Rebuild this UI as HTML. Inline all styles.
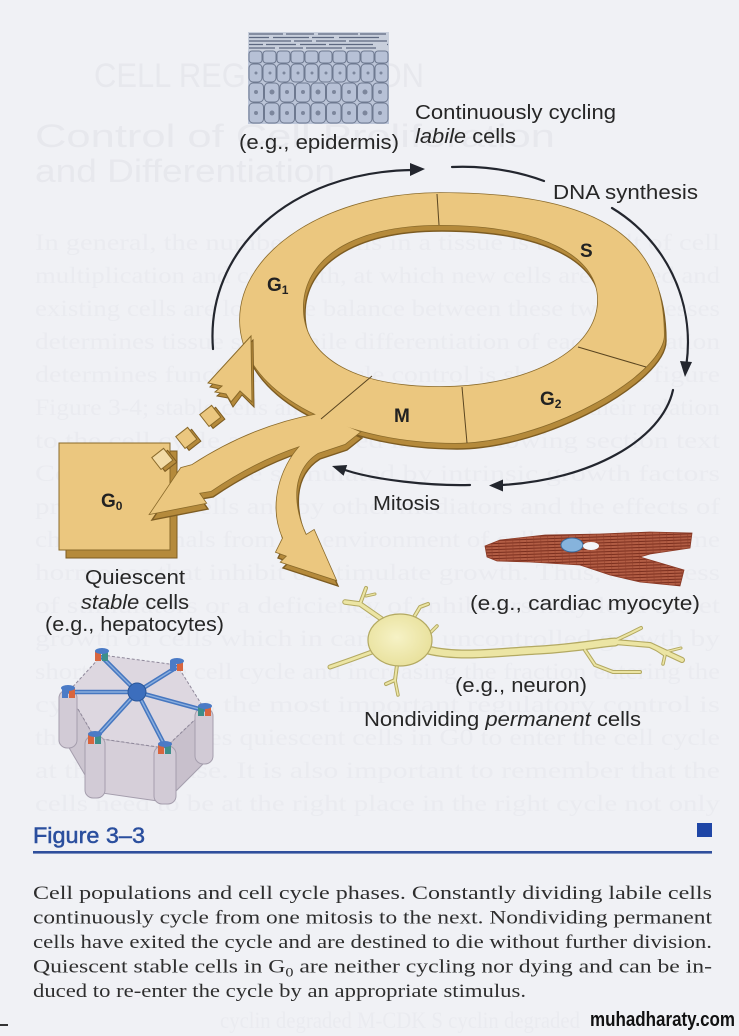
<!DOCTYPE html>
<html><head><meta charset="utf-8">
<style>
html,body{margin:0;padding:0;background:#f0f1f5;}
svg{display:block;}
text{font-family:"Liberation Sans",Arial,sans-serif;}
.serif{font-family:"Liberation Serif","Times New Roman",serif;}
</style></head>
<body>
<svg width="739" height="1036" viewBox="0 0 739 1036" xmlns="http://www.w3.org/2000/svg">
<defs>
  <pattern id="mus" width="7" height="3" patternUnits="userSpaceOnUse" patternTransform="rotate(-2)">
    <rect width="7" height="3" fill="#b25d44"/>
    <rect y="2" width="7" height="1" fill="#7a2e1e"/>
    <rect x="3" width="1" height="3" fill="#8e3d29" opacity="0.5"/>
  </pattern>
  <radialGradient id="soma" cx="0.45" cy="0.45" r="0.6">
    <stop offset="0" stop-color="#f6f2c6"/>
    <stop offset="1" stop-color="#e8e09a"/>
  </radialGradient>
  <g id="body">
    <path fill-rule="evenodd" d="M440 193 C610 193 664 245 664 335 C664 375 545 443 455 443 C345 443 240 395 240 320 C240 250 330 193 440 193 Z M440 225 C540 225 598 255 598 300 C598 350 530 387 440 387 C350 387 303 355 303 308 C303 260 350 225 440 225 Z"/>
    <path d="M318 414 Q252 426 192 465 L181 468 L150 514 L206 503 L199 493 L211 491 Q255 461 300 446 C281 467 268 505 283 538 L276 552 L287 556 L281 562 L336 580 L314 530 L306 535 C292 505 291 470 318 453 L345 444 L360 432 Z"/>
  </g>
</defs>

<!-- background -->
<rect width="739" height="1036" fill="#f0f1f5"/>

<!-- ghost show-through text -->
<g fill="#e7e8ed">
  <text x="94" y="87" font-size="34" textLength="330" lengthAdjust="spacingAndGlyphs">CELL REGENERATION</text>
  <text x="35" y="147" font-size="32" textLength="520" lengthAdjust="spacingAndGlyphs">Control of Cell Proliferation</text>
  <text x="35" y="182" font-size="32" textLength="300" lengthAdjust="spacingAndGlyphs">and Differentiation</text>
</g>
<g fill="#eaebf0" class="serif" font-size="23">
  <text class="serif" x="35" y="250" textLength="685" lengthAdjust="spacingAndGlyphs">In general, the number of cells in a tissue is the result of cell</text>
  <text class="serif" x="35" y="283" textLength="685" lengthAdjust="spacingAndGlyphs">multiplication and cell death, at which new cells are formed and</text>
  <text class="serif" x="35" y="316" textLength="685" lengthAdjust="spacingAndGlyphs">existing cells are lost. The balance between these two processes</text>
  <text class="serif" x="35" y="349" textLength="685" lengthAdjust="spacingAndGlyphs">determines tissue size, while differentiation of each population</text>
  <text class="serif" x="35" y="382" textLength="685" lengthAdjust="spacingAndGlyphs">determines function. Cell cycle control is shown in the figure</text>
  <text class="serif" x="35" y="415" textLength="685" lengthAdjust="spacingAndGlyphs">Figure 3-4; stable cells and quiescent populations and their relation</text>
  <text class="serif" x="35" y="448" textLength="685" lengthAdjust="spacingAndGlyphs">to the cell cycle are described in the following section text</text>
  <text class="serif" x="35" y="481" textLength="685" lengthAdjust="spacingAndGlyphs">Cell growth can be stimulated by intrinsic growth factors</text>
  <text class="serif" x="35" y="514" textLength="685" lengthAdjust="spacingAndGlyphs">produced by cells and by other mediators and the effects of</text>
  <text class="serif" x="35" y="547" textLength="685" lengthAdjust="spacingAndGlyphs">chemical signals from the environment of cells including some</text>
  <text class="serif" x="35" y="580" textLength="685" lengthAdjust="spacingAndGlyphs">hormones that inhibit or stimulate growth. Thus, an excess</text>
  <text class="serif" x="35" y="613" textLength="685" lengthAdjust="spacingAndGlyphs">of stimulators or a deficiency of inhibitors may lead to net</text>
  <text class="serif" x="35" y="646" textLength="685" lengthAdjust="spacingAndGlyphs">growth of cells which in cancer is uncontrolled growth by</text>
  <text class="serif" x="35" y="679" textLength="685" lengthAdjust="spacingAndGlyphs">shortening the cell cycle and increasing the fraction entering the</text>
  <text class="serif" x="35" y="712" textLength="685" lengthAdjust="spacingAndGlyphs">cycle. Perhaps the most important regulatory control is</text>
  <text class="serif" x="35" y="745" textLength="685" lengthAdjust="spacingAndGlyphs">that which causes quiescent cells in G0 to enter the cell cycle</text>
  <text class="serif" x="35" y="778" textLength="685" lengthAdjust="spacingAndGlyphs">at the G1 phase. It is also important to remember that the</text>
  <text class="serif" x="35" y="811" textLength="685" lengthAdjust="spacingAndGlyphs">cells need to be at the right place in the right cycle not only</text>
  <text class="serif" x="220" y="1028" textLength="360" lengthAdjust="spacingAndGlyphs">cyclin degraded   M-CDK   S cyclin degraded</text>
</g>

<!-- epidermis -->
<g>
  <rect x="248" y="32" width="141" height="92" fill="#bcc5d8"/>
  <rect x="248" y="32" width="141" height="19" fill="#c8cfdc"/>
  <g stroke="#5d6880" stroke-width="1.3">
    <line x1="249" y1="34" x2="388" y2="34" stroke-dasharray="34 3 28 4 40 2 26"/>
    <line x1="249" y1="37.5" x2="388" y2="37.5" stroke-dasharray="20 4 36 3 22 5 40"/>
    <line x1="249" y1="41" x2="388" y2="41" stroke-dasharray="42 3 18 4 30 3 38"/>
    <line x1="249" y1="44.5" x2="388" y2="44.5" stroke-dasharray="14 3 30 4 26 3 44"/>
    <line x1="249" y1="48" x2="388" y2="48" stroke-dasharray="26 4 24 3 36 4 30"/>
  </g>
  <g fill="#b7c1d6" stroke="#6e7990" stroke-width="1">
    <rect x="249" y="51" width="13" height="12" rx="3"/><rect x="263" y="51" width="13" height="12" rx="3"/><rect x="277" y="51" width="13" height="12" rx="3"/><rect x="291" y="51" width="13" height="12" rx="3"/><rect x="305" y="51" width="13" height="12" rx="3"/><rect x="319" y="51" width="13" height="12" rx="3"/><rect x="333" y="51" width="13" height="12" rx="3"/><rect x="347" y="51" width="13" height="12" rx="3"/><rect x="361" y="51" width="13" height="12" rx="3"/><rect x="375" y="51" width="13" height="12" rx="3"/>
    <rect x="249" y="64" width="13" height="18" rx="4"/><rect x="263" y="64" width="13" height="18" rx="4"/><rect x="277" y="64" width="13" height="18" rx="4"/><rect x="291" y="64" width="13" height="18" rx="4"/><rect x="305" y="64" width="13" height="18" rx="4"/><rect x="319" y="64" width="13" height="18" rx="4"/><rect x="333" y="64" width="13" height="18" rx="4"/><rect x="347" y="64" width="13" height="18" rx="4"/><rect x="361" y="64" width="13" height="18" rx="4"/><rect x="375" y="64" width="13" height="18" rx="4"/>
    <rect x="249" y="83" width="14.5" height="19" rx="4"/><rect x="264.5" y="83" width="14.5" height="19" rx="4"/><rect x="280" y="83" width="14.5" height="19" rx="4"/><rect x="295.5" y="83" width="14.5" height="19" rx="4"/><rect x="311" y="83" width="14.5" height="19" rx="4"/><rect x="326.5" y="83" width="14.5" height="19" rx="4"/><rect x="342" y="83" width="14.5" height="19" rx="4"/><rect x="357.5" y="83" width="14.5" height="19" rx="4"/><rect x="373" y="83" width="15" height="19" rx="4"/>
    <rect x="249" y="103" width="14.5" height="20" rx="4"/><rect x="264.5" y="103" width="14.5" height="20" rx="4"/><rect x="280" y="103" width="14.5" height="20" rx="4"/><rect x="295.5" y="103" width="14.5" height="20" rx="4"/><rect x="311" y="103" width="14.5" height="20" rx="4"/><rect x="326.5" y="103" width="14.5" height="20" rx="4"/><rect x="342" y="103" width="14.5" height="20" rx="4"/><rect x="357.5" y="103" width="14.5" height="20" rx="4"/><rect x="373" y="103" width="15" height="20" rx="4"/>
  </g>
  <g fill="#7c869c">
    <circle cx="256" cy="73" r="1.5"/><circle cx="270" cy="73" r="1.5"/><circle cx="284" cy="73" r="1.5"/><circle cx="298" cy="73" r="1.5"/><circle cx="312" cy="73" r="1.5"/><circle cx="326" cy="73" r="1.5"/><circle cx="340" cy="73" r="1.5"/><circle cx="354" cy="73" r="1.5"/><circle cx="368" cy="73" r="1.5"/><circle cx="381" cy="73" r="1.5"/>
    <circle cx="256" cy="92" r="2"/><circle cx="272" cy="92" r="2.5"/><circle cx="287" cy="92" r="2"/><circle cx="303" cy="92" r="2"/><circle cx="318" cy="92" r="2.5"/><circle cx="334" cy="92" r="2"/><circle cx="349" cy="92" r="2"/><circle cx="365" cy="92" r="2.5"/><circle cx="380" cy="92" r="2"/>
    <circle cx="256" cy="113" r="2"/><circle cx="272" cy="113" r="2.5"/><circle cx="287" cy="113" r="2"/><circle cx="303" cy="113" r="2"/><circle cx="318" cy="113" r="2.5"/><circle cx="334" cy="113" r="2"/><circle cx="349" cy="113" r="2"/><circle cx="365" cy="113" r="2.5"/><circle cx="380" cy="113" r="2"/>
  </g>
</g>

<!-- labels top -->
<g fill="#262626" font-size="20">
  <text x="239" y="149" textLength="160" lengthAdjust="spacingAndGlyphs">(e.g., epidermis)</text>
  <text x="415" y="119" textLength="201" lengthAdjust="spacingAndGlyphs">Continuously cycling</text>
  <text x="415" y="143" textLength="101" lengthAdjust="spacingAndGlyphs"><tspan font-style="italic">labile</tspan> cells</text>
  <text x="553" y="199" textLength="145" lengthAdjust="spacingAndGlyphs">DNA synthesis</text>
  <text x="373" y="510" textLength="67" lengthAdjust="spacingAndGlyphs">Mitosis</text>
  <text x="85" y="584" textLength="100" lengthAdjust="spacingAndGlyphs">Quiescent</text>
  <text x="81" y="609" textLength="108" lengthAdjust="spacingAndGlyphs"><tspan font-style="italic">stable</tspan> cells</text>
  <text x="45" y="631" textLength="179" lengthAdjust="spacingAndGlyphs">(e.g., hepatocytes)</text>
  <text x="470" y="610" textLength="230" lengthAdjust="spacingAndGlyphs">(e.g., cardiac myocyte)</text>
  <text x="455" y="692" textLength="132" lengthAdjust="spacingAndGlyphs">(e.g., neuron)</text>
  <text x="364" y="726" textLength="277" lengthAdjust="spacingAndGlyphs">Nondividing <tspan font-style="italic">permanent</tspan> cells</text>
</g>

<!-- black cycle arrows -->
<g fill="none" stroke="#23262e" stroke-width="2.2" stroke-linecap="round">
  <path d="M213 349 C205 250 290 172 412 170"/>
  <path d="M452 167 Q500 165 544 181"/>
  <path d="M612 208 C665 240 695 300 686.5 364"/>
  <path d="M673 390 C662 440 590 480 502 485"/>
  <path d="M470 485 C430 486 375 480 345 470"/>
</g>
<g fill="#23262e">
  <polygon points="425,169 410,163 410,176"/>
  <polygon points="685,377 692,362 680,361"/>
  <polygon points="489,485.5 503,479.5 503,491.5"/>
  <polygon points="332,466 343.6,475.8 347.2,465"/>
</g>

<!-- G0 box -->
<rect x="66" y="451" width="111" height="107" fill="#b58a3b" stroke="#7d5c22" stroke-width="1"/>
<rect x="59" y="443" width="111" height="107" fill="#ebc77f" stroke="#8a6a2a" stroke-width="1"/>

<!-- main ring + arrows -->
<use href="#body" transform="translate(2,6)" fill="#b58a3b" stroke="#7d5c22" stroke-width="1.4"/>
<use href="#body" fill="none" stroke="#8a6a2a" stroke-width="1.6"/>
<use href="#body" fill="#ebc77f" stroke="none"/>

<!-- up arrow into G1 -->
<polygon points="253,340 210,387 224,390 217,396 228,398 233,407 242,395 254,407" fill="#b58a3b" stroke="#7d5c22" stroke-width="1"/>
<polygon points="251,336 208,383 222,386 215,392 226,394 231,402 240,391 252,402" fill="#ebc77f" stroke="#8a6a2a" stroke-width="1"/>

<!-- broken squares -->
<g stroke-width="1">
  <g transform="translate(211 416) rotate(-38)">
    <rect x="-6" y="-4" width="15" height="15" fill="#b58a3b" stroke="#7d5c22"/>
    <rect x="-8" y="-8" width="15" height="15" fill="#ebc77f" stroke="#8a6a2a"/>
  </g>
  <g transform="translate(187 438) rotate(-38)">
    <rect x="-6" y="-4" width="15" height="15" fill="#b58a3b" stroke="#7d5c22"/>
    <rect x="-8" y="-8" width="15" height="15" fill="#ebc77f" stroke="#8a6a2a"/>
  </g>
  <g transform="translate(163 459) rotate(-38)">
    <rect x="-6" y="-4" width="15" height="15" fill="#b58a3b" stroke="#7d5c22"/>
    <rect x="-8" y="-8" width="15" height="15" fill="#f2dba6" stroke="#8a6a2a"/>
  </g>
</g>

<!-- segment divider lines -->
<g stroke="#5a4520" stroke-width="1">
  <line x1="437" y1="194" x2="439" y2="225"/>
  <line x1="578" y1="347" x2="646" y2="367"/>
  <line x1="462" y1="387" x2="467" y2="443"/>
  <line x1="372" y1="376" x2="321" y2="419"/>
</g>

<!-- phase labels -->
<g fill="#222" font-weight="bold" font-size="19">
  <text x="267" y="291">G<tspan font-size="12" dy="3">1</tspan></text>
  <text x="580" y="257">S</text>
  <text x="394" y="422">M</text>
  <text x="540" y="405">G<tspan font-size="12" dy="3">2</tspan></text>
  <text x="101" y="507">G<tspan font-size="12" dy="3">0</tspan></text>
</g>

<!-- cardiac myocyte -->
<path d="M485 546 L500 540 L545 535 L600 534 L650 532 L692 533 L690 548 L650 554 L640 557 L684 570 L680 586 L640 582 L610 575 L580 565 L530 562 L497 561 L487 557 Z" fill="url(#mus)" stroke="#8a3a26" stroke-width="0.8"/>
<ellipse cx="572" cy="545" rx="11" ry="7" fill="#86b3dc" stroke="#3c6a9a" stroke-width="1"/>
<ellipse cx="591" cy="546" rx="8" ry="4" fill="#f4f6fa"/>

<!-- neuron -->
<g fill="none" stroke-linecap="round" stroke-linejoin="round">
  <g stroke="#b3a962">
    <path d="M428 650 C460 658 500 652 540 650 C575 648 600 643 615 642" stroke-width="9"/>
    <path d="M615 642 L650 645 L682 660" stroke-width="6"/>
    <path d="M612 642 L631 633 L641 628" stroke-width="4"/>
    <path d="M650 645 L665 655 L663 664" stroke-width="3.5"/>
    <path d="M665 652 L681 648" stroke-width="3"/>
    <path d="M585 650 L595 665 L613 672 L640 672" stroke-width="4"/>
    <path d="M383 620 L360 604 L345 602" stroke-width="5.5"/>
    <path d="M360 604 L366 588" stroke-width="4"/>
    <path d="M366 596 L375 594" stroke-width="3"/>
    <path d="M414 617 L420 607 L428 604" stroke-width="4"/>
    <path d="M430 633 L437 626" stroke-width="3.5"/>
    <path d="M372 652 L350 660 L330 667" stroke-width="5"/>
    <path d="M397 665 L395 680 L386 684" stroke-width="4"/>
    <path d="M395 680 L398 695" stroke-width="3.5"/>
  </g>
  <g stroke="#ece5a4">
    <path d="M428 650 C460 658 500 652 540 650 C575 648 600 643 615 642" stroke-width="6.5"/>
    <path d="M615 642 L650 645 L682 660" stroke-width="3.8"/>
    <path d="M612 642 L631 633 L641 628" stroke-width="2"/>
    <path d="M650 645 L665 655 L663 664" stroke-width="1.6"/>
    <path d="M665 652 L681 648" stroke-width="1.2"/>
    <path d="M585 650 L595 665 L613 672 L640 672" stroke-width="2"/>
    <path d="M383 620 L360 604 L345 602" stroke-width="3.5"/>
    <path d="M360 604 L366 588" stroke-width="2"/>
    <path d="M366 596 L375 594" stroke-width="1.2"/>
    <path d="M414 617 L420 607 L428 604" stroke-width="2"/>
    <path d="M430 633 L437 626" stroke-width="1.6"/>
    <path d="M372 652 L350 660 L330 667" stroke-width="3"/>
    <path d="M397 665 L395 680 L386 684" stroke-width="2"/>
    <path d="M395 680 L398 695" stroke-width="1.6"/>
  </g>
</g>
<ellipse cx="400" cy="640" rx="32" ry="26" fill="url(#soma)" stroke="#b3a962" stroke-width="1.2"/>

<!-- hepatocyte -->
<g>
  <polygon points="68,692 95,738 95,792 68,746" fill="#ccc5d0" stroke="#a59ead"/>
  <polygon points="95,738 165,748 165,802 95,792" fill="#d6cfd9" stroke="#a59ead"/>
  <polygon points="165,748 205,710 205,762 165,802" fill="#c8c0cc" stroke="#a59ead"/>
  <polygon points="102,655 177,665 205,710 165,748 95,738 68,692" fill="#ddd7e0" stroke="#8f889a" stroke-dasharray="3 2"/>
  <g fill="#d2cbd6" stroke="#a59ead">
    <rect x="59" y="690" width="18" height="58" rx="8"/>
    <rect x="85" y="736" width="20" height="62" rx="8"/>
    <rect x="154" y="746" width="22" height="58" rx="8"/>
    <rect x="195" y="708" width="18" height="56" rx="8"/>
  </g>
  <g stroke="#4677c0" stroke-width="4.5" stroke-linecap="round">
    <line x1="137" y1="692" x2="102" y2="657"/>
    <line x1="137" y1="692" x2="177" y2="667"/>
    <line x1="137" y1="692" x2="203" y2="710"/>
    <line x1="137" y1="692" x2="165" y2="746"/>
    <line x1="137" y1="692" x2="97" y2="736"/>
    <line x1="137" y1="692" x2="70" y2="692"/>
  </g>
  <g stroke="#8aaede" stroke-width="1.4" stroke-linecap="round">
    <line x1="137" y1="692" x2="102" y2="657"/>
    <line x1="137" y1="692" x2="177" y2="667"/>
    <line x1="137" y1="692" x2="203" y2="710"/>
    <line x1="137" y1="692" x2="165" y2="746"/>
    <line x1="137" y1="692" x2="97" y2="736"/>
    <line x1="137" y1="692" x2="70" y2="692"/>
  </g>
  <circle cx="137" cy="692" r="9" fill="#3c6ebd" stroke="#2a5698"/>
  <g>
    <rect x="95" y="651" width="6" height="10" fill="#d8653e"/><rect x="102" y="651" width="6" height="10" fill="#3d8e8a"/><ellipse cx="102" cy="651" rx="7" ry="3" fill="#4b7bc6"/>
    <rect x="170" y="661" width="6" height="10" fill="#4b7bc6"/><rect x="177" y="661" width="6" height="10" fill="#d8653e"/><ellipse cx="177" cy="661" rx="7" ry="3" fill="#4b7bc6"/>
    <rect x="198" y="706" width="6" height="10" fill="#3d8e8a"/><rect x="205" y="706" width="6" height="10" fill="#d8653e"/><ellipse cx="205" cy="706" rx="7" ry="3" fill="#4b7bc6"/>
    <rect x="158" y="744" width="6" height="10" fill="#d8653e"/><rect x="165" y="744" width="6" height="10" fill="#3d8e8a"/><ellipse cx="165" cy="744" rx="7" ry="3" fill="#4b7bc6"/>
    <rect x="88" y="734" width="6" height="10" fill="#d8653e"/><rect x="95" y="734" width="6" height="10" fill="#3d8e8a"/><ellipse cx="95" cy="734" rx="7" ry="3" fill="#4b7bc6"/>
    <rect x="62" y="688" width="6" height="10" fill="#4b7bc6"/><rect x="69" y="688" width="6" height="10" fill="#d8653e"/><ellipse cx="68" cy="688" rx="7" ry="3" fill="#4b7bc6"/>
  </g>
</g>

<!-- Figure header -->
<text x="33" y="843" font-size="22" fill="#2b4f9e" stroke="#2b4f9e" stroke-width="0.5" textLength="112" lengthAdjust="spacingAndGlyphs">Figure 3–3</text>
<rect x="697" y="823" width="15" height="14" fill="#1f46a6"/>
<rect x="33" y="851" width="679" height="2.6" fill="#2f4f9c"/>

<!-- caption -->
<g fill="#2e2e2e" font-size="19">
  <text class="serif" x="33" y="899" textLength="679" lengthAdjust="spacingAndGlyphs">Cell populations and cell cycle phases. Constantly dividing labile cells</text>
  <text class="serif" x="33" y="923.5" textLength="679" lengthAdjust="spacingAndGlyphs">continuously cycle from one mitosis to the next. Nondividing permanent</text>
  <text class="serif" x="33" y="948" textLength="679" lengthAdjust="spacingAndGlyphs">cells have exited the cycle and are destined to die without further division.</text>
  <text class="serif" x="33" y="972.5" textLength="679" lengthAdjust="spacingAndGlyphs">Quiescent stable cells in G<tspan font-size="13" dy="4">0</tspan><tspan dy="-4"> are neither cycling nor dying and can be in-</tspan></text>
  <text class="serif" x="33" y="997" textLength="493" lengthAdjust="spacingAndGlyphs">duced to re-enter the cycle by an appropriate stimulus.</text>
</g>

<!-- watermark -->
<text x="590" y="1026" font-size="20" font-weight="bold" fill="#111" textLength="145" lengthAdjust="spacingAndGlyphs">muhadharaty.com</text>
<rect x="0" y="1024" width="8" height="2" fill="#333"/>
</svg>
</body></html>
